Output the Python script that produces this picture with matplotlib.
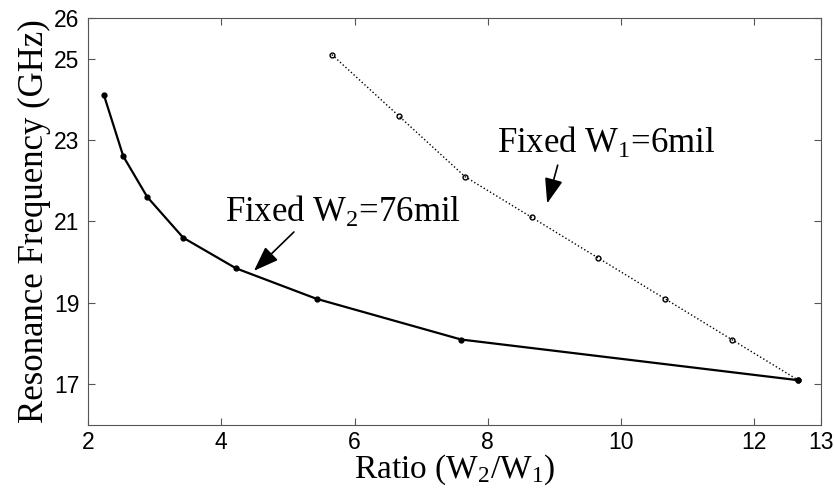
import matplotlib
matplotlib.use("Agg")
import matplotlib.pyplot as plt

# fixed W2 = 76 mil
ratio_w2 = [2.24, 2.53, 2.89, 3.43, 4.22, 5.43, 7.60, 12.66]
freq_w2 = [24.1, 22.6, 21.6, 20.6, 19.85, 19.1, 18.1, 17.1]

# fixed W1 = 6 mil
ratio_w1 = [5.66, 6.66, 7.66, 8.66, 9.66, 10.66, 11.66, 12.66]
freq_w1 = [25.1, 23.6, 22.1, 21.1, 20.1, 19.1, 18.1, 17.1]

xticks = [2, 4, 6, 8, 10, 12, 13]
yticks = [17, 19, 21, 23, 25, 26]

serif = "Liberation Serif"
sans = "Liberation Sans"

plt.rcParams["mathtext.fontset"] = "custom"
plt.rcParams["mathtext.rm"] = serif
plt.rcParams["mathtext.it"] = serif + ":italic"

fig = plt.figure(figsize=(8.35, 4.92), dpi=100)
ax = fig.add_axes([0.1054, 0.1362, 0.8778, 0.8272])

ax.plot(ratio_w2, freq_w2, "k-", linewidth=1.6, marker=".", markersize=7)
ax.plot(ratio_w1, freq_w1, "k:", linewidth=1.0, marker="o", markersize=3.5,
        markerfacecolor="none", markeredgewidth=1.0)

ax.set_xlim(2, 13)
ax.set_ylim(16, 26)
ax.set_xticks(xticks)
ax.set_yticks(yticks)
ax.tick_params(direction="in", length=5, top=True, right=True, labelsize=16.5,
               color="#555555", pad=6)
ax.tick_params(axis="x", pad=4.5)
for lab in ax.get_xticklabels() + ax.get_yticklabels():
    lab.set_family(sans)
for sp in ax.spines.values():
    sp.set_color("#555555")

ax.set_xlabel("Ratio (W$_\\mathrm{2}$/W$_\\mathrm{1}$)", fontsize=24, family=serif, labelpad=-1.5)
ax.set_ylabel("Resonance Frequency (GHz)", fontsize=25, family=serif, labelpad=2)

head = "-|>,head_length=0.55,head_width=0.2"

ax.text(4.06, 21.0, "Fixed W$_\\mathrm{2}$=76mil", fontsize=25, family=serif)
ax.annotate("", xy=(4.46, 19.74), xytext=(5.12, 20.79),
            arrowprops=dict(arrowstyle=head, mutation_scale=28, lw=1.2, color="k"))

ax.text(8.14, 22.68, "Fixed W$_\\mathrm{1}$=6mil", fontsize=25, family=serif)
ax.annotate("", xy=(8.88, 21.38), xytext=(9.06, 22.45),
            arrowprops=dict(arrowstyle=head, mutation_scale=28, lw=1.2, color="k"))

fig.savefig("out.png", dpi=100)
